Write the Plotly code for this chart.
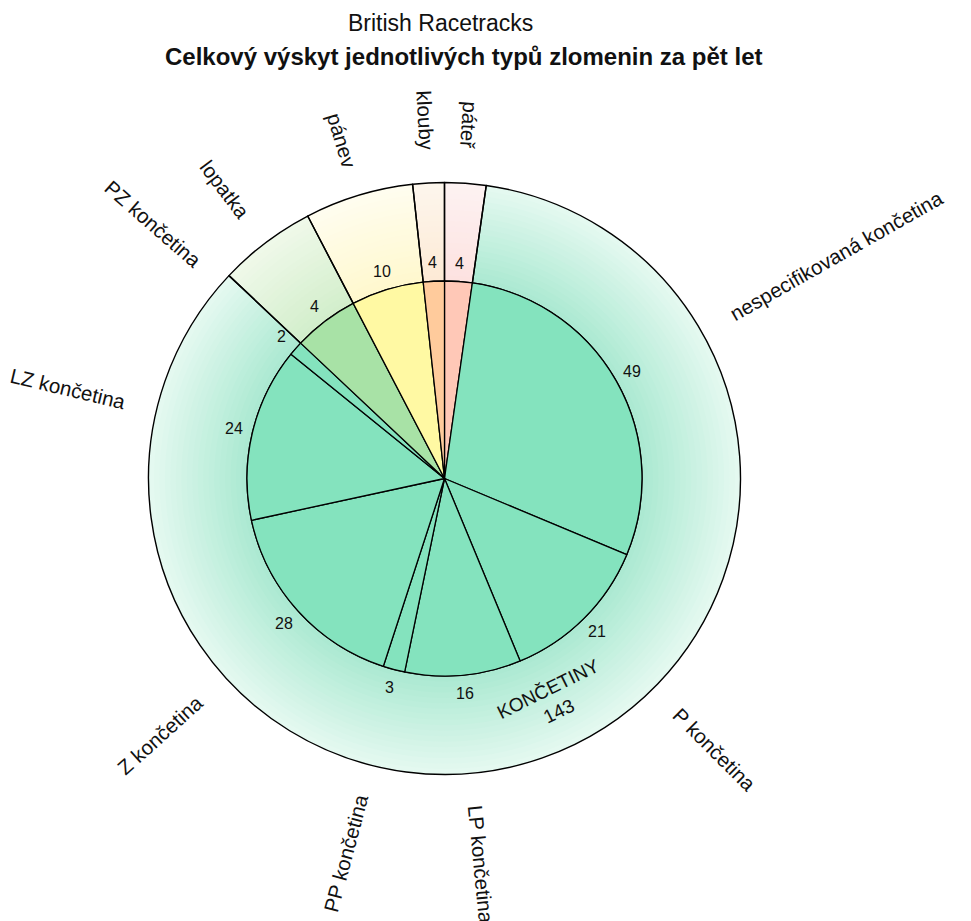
import math
import plotly.graph_objects as go

# slices listed clockwise from 12 o'clock
labels = ["páteř", "nespecifikovaná končetina", "P končetina", "LP končetina", "PP končetina",
          "Z končetina", "LZ končetina", "PZ končetina", "lopatka", "pánev", "klouby"]
groups = ["páteř", "KONČETINY", "KONČETINY", "KONČETINY", "KONČETINY",
          "KONČETINY", "KONČETINY", "KONČETINY", "lopatka", "pánev", "klouby"]
counts = [4, 49, 21, 16, 3, 28, 24, 2, 4, 10, 4]
# slice sizes as drawn (lopatka / klouby are not drawn to scale with their printed counts)
slice_size = [3.8, 49, 21, 16, 3, 28, 24, 2, 9, 10, 2.9]
group_names = ["páteř", "KONČETINY", "lopatka", "pánev", "klouby"]

inner_colors = {"KONČETINY": "#84e3be", "lopatka": "#a8e2a6", "pánev": "#fff9a3",
                "klouby": "#ffcb9c", "páteř": "#ffc8b7"}
ring_inner = {"KONČETINY": (170, 233, 209), "lopatka": (210, 238, 203), "pánev": (255, 248, 205),
              "klouby": (253, 234, 213), "páteř": (253, 226, 224)}
ring_outer = {"KONČETINY": (230, 249, 241), "lopatka": (240, 249, 234), "pánev": (255, 253, 240),
              "klouby": (253, 246, 237), "páteř": (253, 242, 242)}

W, H = 971, 921
OFF = 8  # page body margin in front of the plot div
CX, CY = 444.5 - OFF, 478.5 - OFF
R_IN, R_OUT = 197.5, 296
FONT = "Liberation Sans, Arial, sans-serif"
LABEL_SIZE = 20.5

group_size = [sum(s for s, g in zip(slice_size, groups) if g == name) for name in group_names]
group_count = [sum(c for c, g in zip(counts, groups) if g == name) for name in group_names]


def domain(r):
    return dict(x=[(CX - r) / W, (CX + r) / W], y=[1 - (CY + r) / H, 1 - (CY - r) / H])


def at(theta, r):
    a = math.radians(theta)
    return (CX + r * math.sin(a)) / W, 1 - (CY - r * math.cos(a)) / H


def mids(sizes):
    tot = sum(sizes)
    out, acc = [], 0
    for s in sizes:
        out.append((acc + s / 2) / tot * 360)
        acc += s
    return out


def mix(c0, c1, t):
    return "rgb(%d,%d,%d)" % tuple(round(a + (b - a) * t) for a, b in zip(c0, c1))


fig = go.Figure()

# outer ring: radial gradient made of stacked bands
N = 18
for i in range(N):
    r = R_OUT - (R_OUT - R_IN) * i / N
    t = (r - (R_OUT - R_IN) / (2 * N) - R_IN) / (R_OUT - R_IN)
    fig.add_trace(go.Pie(
        values=group_size, labels=group_names, sort=False, direction="clockwise", rotation=0,
        hole=R_IN / r, domain=domain(r), textinfo="none", hoverinfo="skip",
        marker=dict(colors=[mix(ring_inner[g], ring_outer[g], t) for g in group_names],
                    line=dict(width=0)),
    ))

# outer ring outlines
fig.add_trace(go.Pie(
    values=group_size, labels=group_names, sort=False, direction="clockwise", rotation=0,
    hole=R_IN / R_OUT, domain=domain(R_OUT), textinfo="none",
    marker=dict(colors=["rgba(0,0,0,0)"] * len(group_names), line=dict(color="black", width=1.4)),
))

# inner pie
fig.add_trace(go.Pie(
    values=slice_size, labels=labels, sort=False, direction="clockwise", rotation=0,
    domain=domain(R_IN), textinfo="none",
    marker=dict(colors=[inner_colors[g] for g in groups], line=dict(color="black", width=1.3)),
))

ann = []
# counts just outside the inner pie
for th, c in zip(mids(slice_size), counts):
    x, y = at(th, 216)
    ann.append(dict(x=x, y=y, text=str(c), showarrow=False, font=dict(size=16, color="#111")))

# radial category names
for th, lab in zip(mids(slice_size), labels):
    w = 0.475 * LABEL_SIZE * len(lab)
    x, y = at(th, 329 + w / 2)
    outward = 10 < th < 190
    angle = th - 90 if outward else th - 270
    if angle < -180:
        angle += 360
    ann.append(dict(x=x, y=y, text=lab, showarrow=False, textangle=angle,
                    font=dict(size=LABEL_SIZE, color="#111")))

# group total inside the ring
k = group_names.index("KONČETINY")
th = mids(group_size)[k] - 7
x, y = at(th, 247)
ann.append(dict(x=x, y=y, text="KONČETINY<br>%d" % group_count[k], showarrow=False,
                textangle=th - 180, font=dict(size=19, color="#111")))

ann.append(dict(x=(440 - OFF) / W, y=1 - (23 - OFF) / H, text="British Racetracks", showarrow=False,
                font=dict(size=23, color="#111")))
ann.append(dict(x=(464 - OFF) / W, y=1 - (56 - OFF) / H,
                text="<b>Celkový výskyt jednotlivých typů zlomenin za pět let</b>",
                showarrow=False, font=dict(size=24, color="#111")))

for a in ann:
    a.update(xref="paper", yref="paper", xanchor="center", yanchor="middle")

fig.update_layout(
    width=W, height=H, margin=dict(l=0, r=0, t=0, b=0),
    paper_bgcolor="white", plot_bgcolor="white", showlegend=False,
    font=dict(family=FONT), annotations=ann,
)
fig.write_html("out.html")
